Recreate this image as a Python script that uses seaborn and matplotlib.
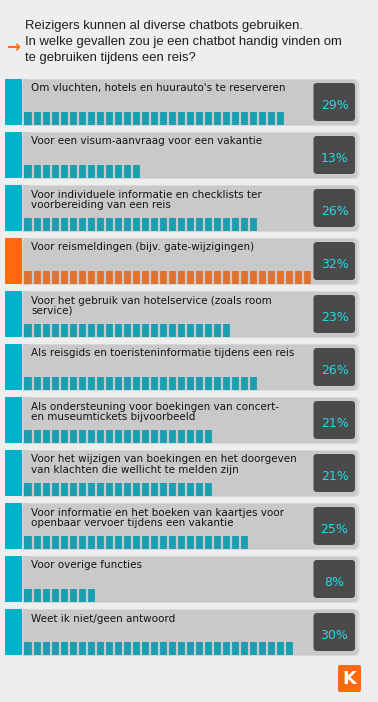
import matplotlib
matplotlib.use("Agg")
import matplotlib.pyplot as plt
from matplotlib.patches import FancyBboxPatch, Rectangle
import seaborn as sns
import numpy as np
import pandas as pd

# data
title = ("Reizigers kunnen al diverse chatbots gebruiken.\n"
         "In welke gevallen zou je een chatbot handig vinden om\n"
         "te gebruiken tijdens een reis?")
labels = [
    "Om vluchten, hotels en huurauto's te reserveren",
    "Voor een visum-aanvraag voor een vakantie",
    "Voor individuele informatie en checklists ter\nvoorbereiding van een reis",
    "Voor reismeldingen (bijv. gate-wijzigingen)",
    "Voor het gebruik van hotelservice (zoals room\nservice)",
    "Als reisgids en toeristeninformatie tijdens een reis",
    "Als ondersteuning voor boekingen van concert-\nen museumtickets bijvoorbeeld",
    "Voor het wijzigen van boekingen en het doorgeven\nvan klachten die wellicht te melden zijn",
    "Voor informatie en het boeken van kaartjes voor\nopenbaar vervoer tijdens een vakantie",
    "Voor overige functies",
    "Weet ik niet/geen antwoord",
]
values = [29, 13, 26, 32, 23, 26, 21, 21, 25, 8, 30]
highlight = [False, False, False, True, False, False, False, False, False, False, False]

CYAN = "#00b2c9"
ORANGE = "#ff6a10"
PANEL = "#c9c9c9"
PANEL_EDGE = "#d8d8d8"
BOX = "#4a4a4a"
VALUE_TXT = "#22dbe6"
BG = "#eeeeee"

colors = [ORANGE if h else CYAN for h in highlight]
df = pd.DataFrame({"label": labels, "value": values})

W, H = 378, 702
fig = plt.figure(figsize=(W / 100, H / 100), dpi=100)
fig.patch.set_facecolor(BG)

# background / decoration layer in pixel coordinates
bg = fig.add_axes([0, 0, 1, 1])
bg.set_xlim(0, W)
bg.set_ylim(H, 0)
bg.axis("off")
bg.set_zorder(0)

ROW_TOP, PITCH, ROW_H = 79, 53, 47

bg.text(25, 42, title, fontsize=9.4, family="Liberation Sans", color="#1e1e1e",
        va="center", ha="left", linespacing=1.42)
bg.text(6, 47.5, "\u2192", fontsize=12, color=ORANGE, fontweight="bold",
        va="center", ha="left")

for i, (lab, val, col) in enumerate(zip(labels, values, colors)):
    top = ROW_TOP + i * PITCH
    # lighter outer ring, then grey panel
    bg.add_patch(FancyBboxPatch((22.5, top), 337, ROW_H,
                                boxstyle="round,pad=0,rounding_size=5",
                                fc=PANEL_EDGE, ec="none"))
    bg.add_patch(FancyBboxPatch((22.5, top + 1), 334.5, ROW_H - 2,
                                boxstyle="round,pad=0,rounding_size=4",
                                fc=PANEL, ec="none"))
    bg.add_patch(Rectangle((22.5, top), 6, ROW_H, fc=PANEL, ec="none"))
    # coloured stub on the left
    bg.add_patch(Rectangle((4.5, top), 17, ROW_H - 1, fc=col, ec="none"))
    # dark value box
    bg.add_patch(FancyBboxPatch((313.5, top + 4), 41.5, 38,
                                boxstyle="round,pad=0,rounding_size=3.5",
                                fc=BOX, ec="none"))
    bg.text(334.5, top + 26.5, f"{val}%", fontsize=9, color=VALUE_TXT,
            ha="center", va="center", family="DejaVu Sans")
    bg.text(31, top + 4.5, lab, fontsize=7.5, color="#141414", ha="left", va="top",
            family="DejaVu Sans", linespacing=1.02)

# logo
bg.add_patch(FancyBboxPatch((338, 665), 23, 27,
                            boxstyle="round,pad=0,rounding_size=2",
                            fc=ORANGE, ec="none"))
bg.text(349.5, 679, "K", fontsize=13, color="white", fontweight="bold",
        ha="center", va="center", family="DejaVu Sans")

# bar layer: 1 % = 9 px, row centre at 118.5 + 53 i
px_per_pct = 9.0
x_left = 24
x_max = 36
y_first = 118.5
y_lo = y_first - 0.5 * PITCH
y_hi = y_first + (len(labels) - 0.5) * PITCH
ax = fig.add_axes([x_left / W, 1 - y_hi / H, x_max * px_per_pct / W, (y_hi - y_lo) / H])
ax.set_zorder(1)
ax.patch.set_alpha(0)

sns.barplot(data=df, x="value", y="label", hue="label", palette=colors,
            orient="h", width=13 / PITCH, linewidth=0, legend=False, ax=ax)
ax.set_xlim(0, x_max)
ax.set_ylim(len(labels) - 0.5, -0.5)
ax.axis("off")

# cut every bar into 1 % segments
ticks = np.arange(1, x_max)
for patch in list(ax.patches):
    lc = ax.vlines(ticks, -0.5, len(labels) - 0.5, colors=PANEL, linewidth=1.6)
    lc.set_clip_path(patch)

fig.savefig("out.png", dpi=100, facecolor=BG)
